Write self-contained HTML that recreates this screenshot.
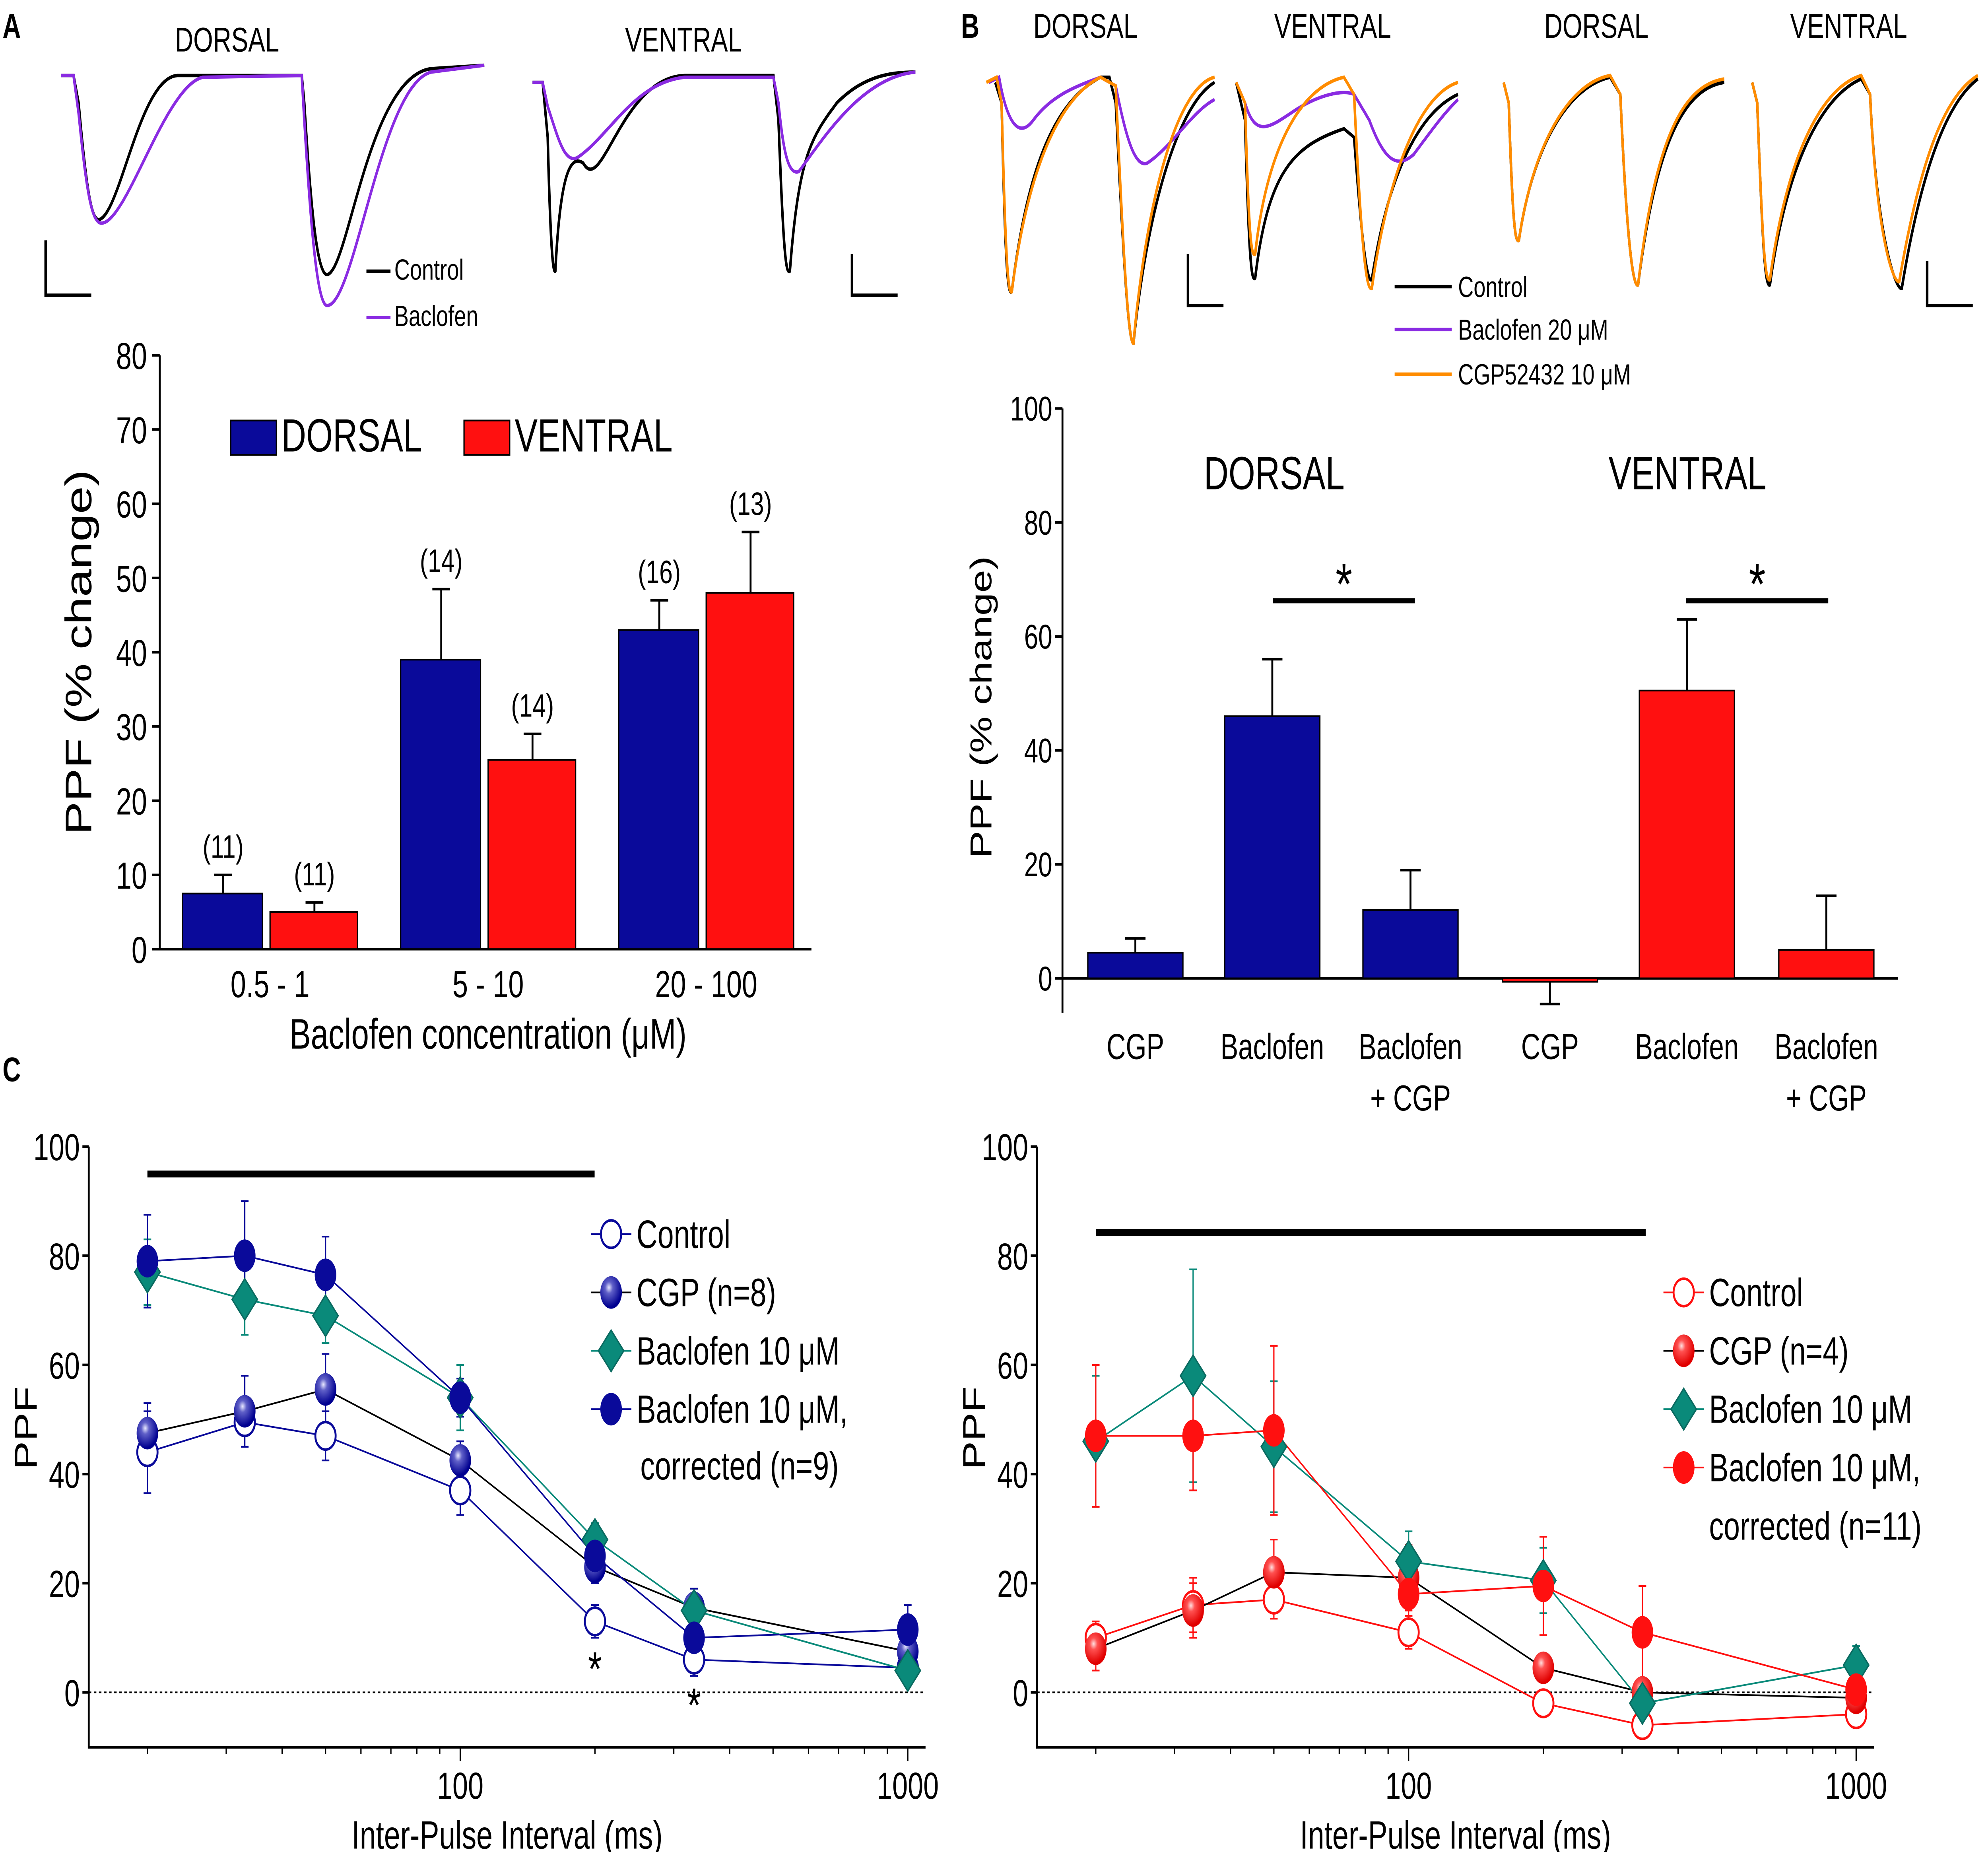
<!DOCTYPE html>
<html><head><meta charset="utf-8"><style>
html,body{margin:0;padding:0;background:#fff;width:100%;height:100%;overflow:hidden;}
svg{display:block;font-family:"Liberation Sans",sans-serif;width:100vw;height:100vh;position:absolute;left:0;top:0;}
</style></head><body>
<svg id="fig" viewBox="0 0 1568 1079" preserveAspectRatio="none" xmlns="http://www.w3.org/2000/svg">
<defs>
<radialGradient id="gBlue" cx="0.4" cy="0.35" r="0.6"><stop offset="0" stop-color="#e8e8ff"/><stop offset="0.3" stop-color="#6060c8"/><stop offset="1" stop-color="#000090"/></radialGradient>
<radialGradient id="gRed" cx="0.4" cy="0.35" r="0.6"><stop offset="0" stop-color="#ffe0e0"/><stop offset="0.3" stop-color="#ff5050"/><stop offset="1" stop-color="#e00000"/></radialGradient>
</defs>
<text x="2" y="22" font-size="20" font-weight="bold">A</text>
<text x="758" y="22" font-size="20" font-weight="bold">B</text>
<text x="2" y="630" font-size="20" font-weight="bold">C</text>

<g fill="none" stroke-width="2">
<text x="138" y="30" font-size="20" stroke="none" fill="#000">DORSAL</text>
<text x="493" y="30" font-size="20" stroke="none" fill="#000">VENTRAL</text>
<path d="M48,44 L58,44 L62,60 C68,110 72,128 78,128 C95,125 110,45 140,44 L238,44 L240,60 C245,120 250,160 258,160 C275,158 290,45 340,40 L382,38" stroke="#000"/>
<path d="M48,44 L58,44 L62,66 C68,110 72,130 80,130 C100,130 130,50 160,45 L238,44 L240,70 C245,130 250,178 258,178 C280,178 300,50 340,42 L382,38" stroke="#8a2be2"/>
<path d="M420,48 L428,48 L432,80 C434,140 436,160 438,158 C442,100 450,90 460,95 C475,115 490,45 540,44 L610,44 L614,70 C618,150 620,160 623,158 C630,90 640,80 660,60 C680,45 700,42 722,42" stroke="#000"/>
<path d="M420,48 L428,48 L432,62 C440,80 445,95 455,92 C480,80 500,48 540,45 L610,45 L614,60 C618,90 622,102 630,100 C650,80 680,45 722,42" stroke="#8a2be2"/>
<path d="M36,140 L36,172 L72,172" stroke="#000"/>
<path d="M672,148 L672,172 L708,172" stroke="#000"/>
<path d="M289,158 L308,158" stroke="#000"/>
<path d="M289,185 L308,185" stroke="#8a2be2"/>
<text x="311" y="163" font-size="17" stroke="none" fill="#000">Control</text>
<text x="311" y="190" font-size="17" stroke="none" fill="#000">Baclofen</text>
</g>

<g fill="none" stroke-width="2">
<text x="815" y="22" font-size="20" stroke="none" fill="#000">DORSAL</text>
<text x="1005" y="22" font-size="20" stroke="none" fill="#000">VENTRAL</text>
<text x="1218" y="22" font-size="20" stroke="none" fill="#000">DORSAL</text>
<text x="1412" y="22" font-size="20" stroke="none" fill="#000">VENTRAL</text>
<path d="M785,48 L790,60 C793,160 795,172 798,170 C810,100 830,60 868,45 L875,45 L880,60 C886,150 890,200 894,200 C905,120 930,60 958,48" stroke="#000"/>
<path d="M780,48 L788,45 C795,75 805,80 815,70 C830,55 850,50 868,45 L880,50 C888,80 895,98 905,95 C925,85 940,65 958,58" stroke="#8a2be2"/>
<path d="M778,48 L786,45 L790,60 C793,150 795,172 798,170 C812,90 840,55 868,45 L880,50 C886,150 890,200 894,200 C905,110 930,50 958,45" stroke="#ff8c00"/>
<path d="M975,48 L982,70 C985,150 987,165 990,162 C1000,100 1020,85 1060,75 L1068,80 C1074,140 1078,165 1082,163 C1095,100 1120,65 1150,55" stroke="#000"/>
<path d="M975,48 L982,60 C990,80 1000,75 1020,65 C1040,55 1060,52 1068,55 L1080,70 C1090,90 1100,100 1115,90 C1130,75 1140,65 1150,58" stroke="#8a2be2"/>
<path d="M975,48 L982,60 C985,140 987,150 990,148 C1000,80 1030,50 1060,45 L1068,55 C1074,150 1078,170 1082,168 C1095,100 1120,55 1150,48" stroke="#ff8c00"/>
<path d="M1186,48 L1190,60 C1193,130 1195,142 1198,140 C1210,80 1240,50 1270,45 L1278,55 C1283,140 1288,168 1292,166 C1305,90 1325,52 1360,48" stroke="#000"/>
<path d="M1186,48 L1190,60 C1193,130 1195,142 1198,140 C1210,80 1240,48 1270,44 L1278,55 C1283,140 1288,168 1292,166 C1305,85 1325,50 1360,46" stroke="#ff8c00"/>
<path d="M1382,48 L1386,60 C1390,140 1392,168 1396,166 C1410,90 1440,55 1468,46 L1475,55 C1480,140 1496,170 1500,168 C1515,100 1535,60 1560,46" stroke="#000"/>
<path d="M1382,48 L1386,60 C1390,140 1392,165 1396,163 C1410,85 1440,50 1468,44 L1475,55 C1480,140 1494,166 1498,164 C1515,90 1535,55 1560,44" stroke="#ff8c00"/>
<path d="M937,148 L937,178 L965,178" stroke="#000"/>
<path d="M1520,152 L1520,178 L1556,178" stroke="#000"/>
<path d="M1100,167 L1145,167" stroke="#000"/>
<path d="M1100,192 L1145,192" stroke="#8a2be2"/>
<path d="M1100,218 L1145,218" stroke="#ff8c00"/>
<text x="1150" y="173" font-size="17" stroke="none" fill="#000">Control</text>
<text x="1150" y="198" font-size="17" stroke="none" fill="#000">Baclofen 20 μM</text>
<text x="1150" y="224" font-size="17" stroke="none" fill="#000">CGP52432 10 μM</text>
</g>

<g id="chartA"></g>
<g id="chartB"></g>
<g id="chartC1"></g>
<g id="chartC2"></g>
</svg>
<script>
const aGroups = ["0.5 - 1", "5 - 10", "20 - 100"];
const aDorsal = [7.5, 39, 43];
const aDorsalErr = [2.5, 9.5, 4];
const aDorsalN = ["(11)", "(14)", "(16)"];
const aVentral = [5, 25.5, 48];
const aVentralErr = [1.3, 3.5, 8.2];
const aVentralN = ["(11)", "(14)", "(13)"];
const aTicks = [0,10,20,30,40,50,60,70,80];
const bCats = [["CGP"],["Baclofen"],["Baclofen","+ CGP"],["CGP"],["Baclofen"],["Baclofen","+ CGP"]];
const bVals = [4.5, 46, 12, -0.5, 50.5, 5];
const bErrs = [2.5, 10, 7, 4, 12.5, 9.5];
const bColors = ["#0a0a9a","#0a0a9a","#0a0a9a","#ff1010","#ff1010","#ff1010"];
const bTicks = [0,20,40,60,80,100];
const cIntervals = [20, 33, 50, 100, 200, 333, 1000];
const cTicks = [0,20,40,60,80,100];
const dControl = [44, 49.5, 47, 37, 13, 6, 4.5];
const dControlErr = [7.5, 4.5, 4.5, 4.5, 3, 3, 2];
const dCGP = [47.5, 51.5, 55.5, 42.5, 23, 15.5, 7.5];
const dCGPErr = [5.5, 6.5, 6.5, 3.5, 3, 3.5, 3];
const dBac = [77, 72, 69, 54, 28, 15, 4];
const dBacErr = [6, 6.5, 5, 6, 3, 3, 1.5];
const dCor = [79, 80, 76.5, 54, 25, 10, 11.5];
const dCorErr = [8.5, 10, 7, 3.5, 3, 3, 4.5];
const vControl = [10, 16, 17, 11, -2, -6, -4];
const vControlErr = [3, 5, 3.5, 3, 1, 1, 1];
const vCGP = [8, 15, 22, 21, 4.5, 0, -1];
const vCGPErr = [4, 5, 6, 6, 1.5, 2, 1.5];
const vBac = [46, 58, 45, 24, 20.5, -2, 5];
const vBacErr = [12, 19.5, 12, 5.5, 6, 2, 3.5];
const vCor = [47, 47, 48, 18, 19.5, 11, 0.5];
const vCorErr = [13, 10, 15.5, 4, 9, 8.5, 2];

const NS="http://www.w3.org/2000/svg";
function mk(parent, tag, attrs, text){const e=document.createElementNS(NS,tag);for(const k in attrs)e.setAttribute(k,attrs[k]);if(text!==undefined)e.textContent=text;parent.appendChild(e);return e;}

(function(){
const g=document.getElementById('chartA');
const y=v=>553-v*4.325;
mk(g,'path',{d:'M126,207 L126,553 L640,553',fill:'none',stroke:'#000','stroke-width':1.5});
aTicks.forEach(t=>{mk(g,'line',{x1:120,x2:126,y1:y(t),y2:y(t),stroke:'#000','stroke-width':1.5});
 const tx=mk(g,'text',{x:116,y:y(t)+8,'font-size':22,'text-anchor':'end'},String(t));
 
 });
const centers=[213,385,557];
aGroups.forEach((c,i)=>{
 const cx=centers[i];
 const d=mk(g,'rect',{x:cx-69,y:y(aDorsal[i]),width:63,height:553-y(aDorsal[i]),fill:'#0a0a9a',stroke:'#000','stroke-width':1});
 
 
 mk(g,'path',{d:`M${cx-37},${y(aDorsal[i])} V${y(aDorsal[i]+aDorsalErr[i])} M${cx-44},${y(aDorsal[i]+aDorsalErr[i])} H${cx-30}`,stroke:'#000','stroke-width':1.5,fill:'none'});
 const v=mk(g,'rect',{x:cx,y:y(aVentral[i]),width:69,height:553-y(aVentral[i]),fill:'#ff1010',stroke:'#000','stroke-width':1});
 
 
 mk(g,'path',{d:`M${cx+35},${y(aVentral[i])} V${y(aVentral[i]+aVentralErr[i])} M${cx+28},${y(aVentral[i]+aVentralErr[i])} H${cx+42}`,stroke:'#000','stroke-width':1.5,fill:'none'});
 mk(g,'text',{x:cx-37,y:y(aDorsal[i]+aDorsalErr[i])-10,'font-size':19,'text-anchor':'middle'},aDorsalN[i]);
 mk(g,'text',{x:cx+35,y:y(aVentral[i]+aVentralErr[i])-10,'font-size':19,'text-anchor':'middle'},aVentralN[i]);
 const l=mk(g,'text',{x:cx,y:581,'font-size':22,'text-anchor':'middle'},c);
 
 
});
const xt=mk(g,'text',{x:385,y:611,'font-size':25,'text-anchor':'middle'},'Baclofen concentration (μM)');


const yt=mk(g,'text',{x:0,y:0,'font-size':29,'text-anchor':'middle',transform:'translate(72,380) rotate(-90)'},'PPF (% change)');


mk(g,'rect',{x:182,y:245,width:36,height:20,fill:'#0a0a9a',stroke:'#000'});
mk(g,'text',{x:222,y:263,'font-size':27},'DORSAL');
mk(g,'rect',{x:366,y:245,width:36,height:20,fill:'#ff1010',stroke:'#000'});
mk(g,'text',{x:406,y:263,'font-size':27},'VENTRAL');
})();

(function(){
const g=document.getElementById('chartB');
const y=v=>570-v*3.32;
mk(g,'path',{d:'M838,238 L838,590',fill:'none',stroke:'#000','stroke-width':1.5});
mk(g,'line',{x1:838,x2:1497,y1:570,y2:570,stroke:'#000','stroke-width':1.5});
bTicks.forEach(t=>{mk(g,'line',{x1:832,x2:838,y1:y(t),y2:y(t),stroke:'#000','stroke-width':1.5});
 const tx=mk(g,'text',{x:830,y:y(t)+7,'font-size':20,'text-anchor':'end'},String(t));
 
 });
const lefts=[858,966,1075,1185,1293,1403];
bVals.forEach((v,i)=>{
 const x0=lefts[i],w=75,cx=x0+w/2;
 const top=Math.min(y(v),570),h=Math.max(Math.abs(570-y(v)),2);
 const r=mk(g,'rect',{x:x0,y:top,width:w,height:h,fill:bColors[i],stroke:'#000','stroke-width':1});
 
 
 const e=v>=0?v+bErrs[i]:v-bErrs[i];
 mk(g,'path',{d:`M${cx},${y(v)} V${y(e)} M${cx-8},${y(e)} H${cx+8}`,stroke:'#000','stroke-width':1.5,fill:'none'});
 bCats[i].forEach((s,j)=>{const l=mk(g,'text',{x:cx,y:617+j*30,'font-size':21,'text-anchor':'middle'},s);
  
  });
});
mk(g,'text',{x:1005,y:285,'font-size':27,'text-anchor':'middle'},'DORSAL');
mk(g,'text',{x:1331,y:285,'font-size':27,'text-anchor':'middle'},'VENTRAL');
mk(g,'line',{x1:1004,x2:1116,y1:350,y2:350,stroke:'#000','stroke-width':3});
mk(g,'line',{x1:1330,x2:1442,y1:350,y2:350,stroke:'#000','stroke-width':3});
mk(g,'text',{x:1060,y:352,'font-size':34,'text-anchor':'middle'},'*');
mk(g,'text',{x:1386,y:352,'font-size':34,'text-anchor':'middle'},'*');
const yt=mk(g,'text',{x:0,y:0,'font-size':24,'text-anchor':'middle',transform:'translate(782,412) rotate(-90)'},'PPF (% change)');


})();

function chartC(id, x100, series, colors, lineCols, markers, labels, legX, legY, barX2, barY, stars){
const g=document.getElementById(id);
const x0=x100-293, x1=x100+367;
const xs=v=>x100+353*Math.log10(v/100);
const y=v=>986-v*3.18;
mk(g,'path',{d:`M${x0},668 L${x0},1018 L${x1},1018`,fill:'none',stroke:'#000','stroke-width':1.5});
mk(g,'line',{x1:x0,x2:x1,y1:y(0),y2:y(0),stroke:'#000','stroke-width':1,'stroke-dasharray':'2,2'});
cTicks.forEach(t=>{mk(g,'line',{x1:x0-5,x2:x0,y1:y(t),y2:y(t),stroke:'#000','stroke-width':1.5});
 const tx=mk(g,'text',{x:x0-7,y:y(t)+8,'font-size':22,'text-anchor':'end'},String(t));
 
 });
[20,30,40,50,60,70,80,90,100,200,300,400,500,600,700,800,900,1000].forEach(v=>{
 const big=(v===100||v===1000);
 mk(g,'line',{x1:xs(v),x2:xs(v),y1:1018,y2:big?1026:1022,stroke:'#000','stroke-width':1});});
[100,1000].forEach(v=>{const l=mk(g,'text',{x:xs(v),y:1048,'font-size':22,'text-anchor':'middle'},String(v));
 
 });
const xt=mk(g,'text',{x:x100+37,y:1077,'font-size':23,'text-anchor':'middle'},'Inter-Pulse Interval (ms)');


const yt=mk(g,'text',{x:0,y:0,'font-size':25,'text-anchor':'middle',transform:`translate(${x0-41},832) rotate(-90)`},'PPF');


mk(g,'line',{x1:xs(20),x2:barX2,y1:barY,y2:barY,stroke:'#000','stroke-width':4});
series.forEach((s,k)=>{
 const pts=cIntervals.map((iv,i)=>xs(iv)+','+y(s[0][i])).join(' ');
 const pl=mk(g,'polyline',{points:pts,fill:'none',stroke:lineCols[k],'stroke-width':1});
 
 
 cIntervals.forEach((iv,i)=>{const cx=xs(iv),v=s[0][i],e=s[1][i];
  mk(g,'path',{d:`M${cx},${y(v-e)} V${y(v+e)} M${cx-3},${y(v-e)} H${cx+3} M${cx-3},${y(v+e)} H${cx+3}`,stroke:colors[k],'stroke-width':1,fill:'none'});});
});
function marker(type,cx,cy,col){
 let m;
 if(type==='open') m=mk(g,'circle',{cx,cy,r:8,fill:'#fff',stroke:col==='red'?'#ff1010':'#0a0a9a','stroke-width':1.5});
 else if(type==='ball') m=mk(g,'ellipse',{cx,cy,rx:8.5,ry:9.5,fill:col==='blue'?'url(#gBlue)':'url(#gRed)'});
 else if(type==='dia') m=mk(g,'path',{d:`M${cx},${cy-12} L${cx+10},${cy} L${cx},${cy+12} L${cx-10},${cy}Z`,fill:'#0a8a7a',stroke:'#0a6a60'});
 else m=mk(g,'ellipse',{cx,cy,rx:8.5,ry:9.5,fill:col==='blue'?'#0a0a9a':'#ff1010'});
 
 
}
series.forEach((s,k)=>{cIntervals.forEach((iv,i)=>marker(markers[k],xs(iv),y(s[0][i]),colors[k]==='#ff1010'?'red':'blue'));});
labels.forEach((lb,k)=>{const ly=legY+k*34;
 mk(g,'line',{x1:legX-16,x2:legX+16,y1:ly,y2:ly,stroke:lineCols[k],'stroke-width':1});
 marker(markers[k],legX,ly,colors[k]==='#ff1010'?'red':'blue');
 const t=mk(g,'text',{x:legX+20,y:ly+8,'font-size':23},lb);
 
 });
if(stars){stars.forEach(([iv,yy])=>mk(g,'text',{x:xs(iv),y:yy,'font-size':28,'text-anchor':'middle'},'*'));}
return g;
}
const cg1=chartC('chartC1',363,[[dControl,dControlErr],[dCGP,dCGPErr],[dBac,dBacErr],[dCor,dCorErr]],
 ['#0a0a9a','#0a0a9a','#0a8a7a','#0a0a9a'],['#0a0a9a','#000','#0a8a7a','#0a0a9a'],['open','ball','dia','solid'],
 ['Control','CGP (n=8)','Baclofen 10 μM','Baclofen 10 μM,'],482,719,469,684,[[200,982],[333,1003]]);
mk(cg1,'text',{x:505,y:862,'font-size':23},'corrected (n=9)');
const cg2=chartC('chartC2',1111,[[vControl,vControlErr],[vCGP,vCGPErr],[vBac,vBacErr],[vCor,vCorErr]],
 ['#ff1010','#ff1010','#0a8a7a','#ff1010'],['#ff1010','#000','#0a8a7a','#ff1010'],['open','ball','dia','solid'],
 ['Control','CGP (n=4)','Baclofen 10 μM','Baclofen 10 μM,'],1328,753,1298,718,null);
mk(cg2,'text',{x:1348,y:897,'font-size':23},'corrected (n=11)');
</script>
</body></html>
